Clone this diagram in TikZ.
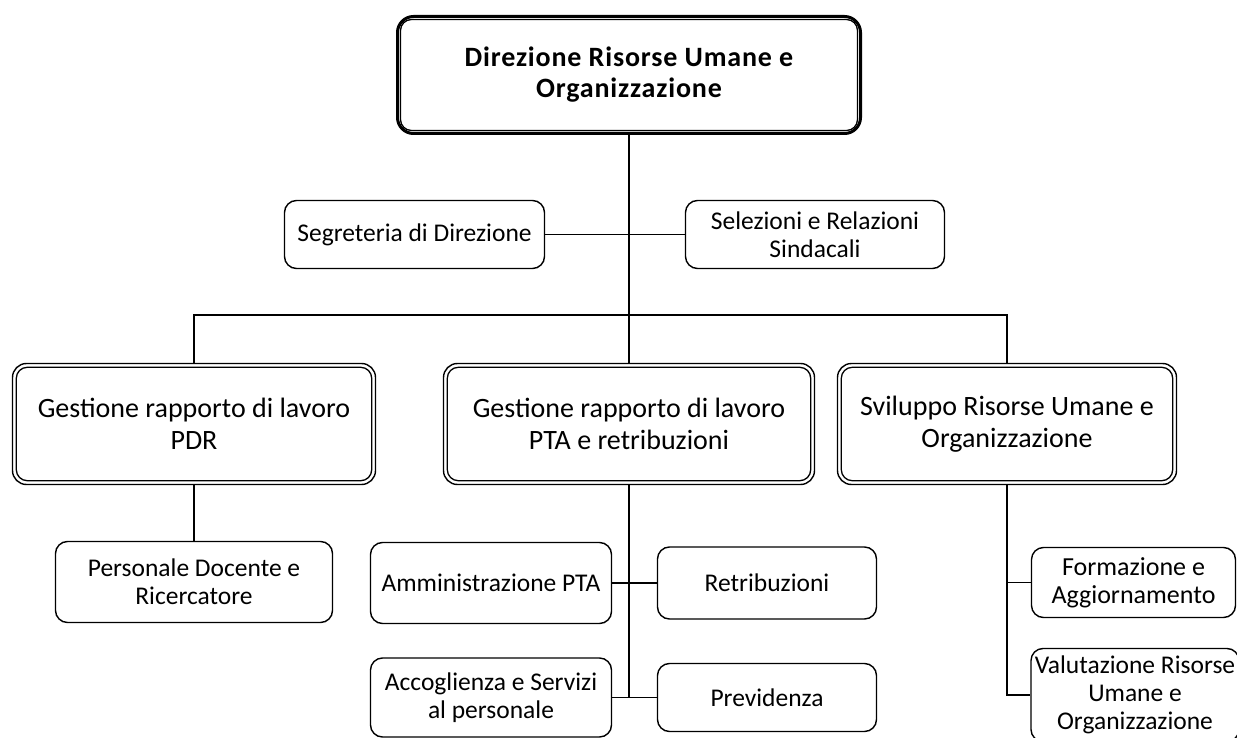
\documentclass[tikz,border=0pt]{standalone}
\usepackage{fontspec}
\setmainfont{Carlito}
\newfontfamily\topfont[LetterSpace=3]{Carlito}
\begin{document}
\begin{tikzpicture}[x=1pt,y=-1pt,
  conn/.style={line width=1.6pt, draw=black},
  smallbox/.style={draw, line width=1.4pt, rounded corners=12pt, align=center, inner sep=0pt, font=\fontsize{25.5}{28}\selectfont},
  rightbox/.style={smallbox, font=\fontsize{26}{28}\selectfont},
  midbox/.style={draw, line width=1.4pt, rounded corners=14pt, align=center, inner sep=0pt, minimum height=121pt, font=\fontsize{28}{32}\selectfont},
  topbox/.style={draw, line width=3pt, rounded corners=16pt, align=center, inner sep=0pt, font=\topfont\bfseries\fontsize{28}{31}\selectfont},
  innerline/.style={line width=1.3pt, rounded corners=11pt}]
\useasboundingbox (0,0) rectangle (1237,738);
\clip (0,0) rectangle (1237,738);

% top
\node[topbox, minimum width=463pt, minimum height=117pt] (dir) at (629,75) {Direzione Risorse Umane e\\Organizzazione};
\draw[innerline] ([xshift=4.5pt,yshift=-4.5pt]dir.north west) rectangle ([xshift=-4.5pt,yshift=4.5pt]dir.south east);

% staff
\node[smallbox, minimum width=260pt, minimum height=68pt] (seg) at (414.5,234.5) {Segreteria di Direzione};
\node[smallbox, minimum width=259pt, minimum height=68pt] (sel) at (815,234.5) {Selezioni e Relazioni\\Sindacali};

% level 2
\node[midbox, minimum width=363pt] (pdr) at (194,424) {Gestione rapporto di lavoro\\PDR};
\draw[innerline] ([xshift=4.5pt,yshift=-4.5pt]pdr.north west) rectangle ([xshift=-4.5pt,yshift=4.5pt]pdr.south east);
\node[midbox, minimum width=371pt] (pta) at (629,424) {Gestione rapporto di lavoro\\PTA e retribuzioni};
\draw[innerline] ([xshift=4.5pt,yshift=-4.5pt]pta.north west) rectangle ([xshift=-4.5pt,yshift=4.5pt]pta.south east);
\node[midbox, minimum width=339pt] (svil) at (1007,424) {Sviluppo Risorse Umane e\\Organizzazione};
\draw[innerline] ([xshift=4.5pt,yshift=-4.5pt]svil.north west) rectangle ([xshift=-4.5pt,yshift=4.5pt]svil.south east);

% level 3
\node[smallbox, minimum width=277pt, minimum height=81pt] (pers) at (194,582) {Personale Docente e\\Ricercatore};
\node[smallbox, minimum width=241pt, minimum height=81pt] (amm) at (491,583) {Amministrazione PTA};
\node[smallbox, minimum width=219pt, minimum height=72pt] (ret) at (767,583) {Retribuzioni};
\node[smallbox, minimum width=241pt, minimum height=79pt] (acc) at (491,697.5) {Accoglienza e Servizi\\al personale};
\node[smallbox, minimum width=219pt, minimum height=68pt] (prev) at (767,697.5) {Previdenza};
\node[rightbox, minimum width=204pt, minimum height=70pt] (form) at (1133.5,582.5) {Formazione e\\Aggiornamento};
\node[smallbox, minimum width=208pt, minimum height=93pt] (val) at (1135,695) {Valutazione Risorse\\Umane e\\Organizzazione};

% connectors
\coordinate (bus) at (629,315);
\draw[conn] (dir.south) -- (pta.north);
\draw[conn] (seg.east) -- (sel.west);
\draw[conn] (pdr.north) |- (bus) -| (svil.north);
\draw[conn] (pdr.south) -- (pers.north);
\draw[conn] (pta.south) |- (acc.east);
\draw[conn] (acc.east) -- (prev.west);
\draw[conn] (amm.east) -- (ret.west);
\draw[conn] (svil.south) |- (val.west);
\draw[conn] (svil.south |- form.west) -- (form.west);
\end{tikzpicture}
\end{document}
